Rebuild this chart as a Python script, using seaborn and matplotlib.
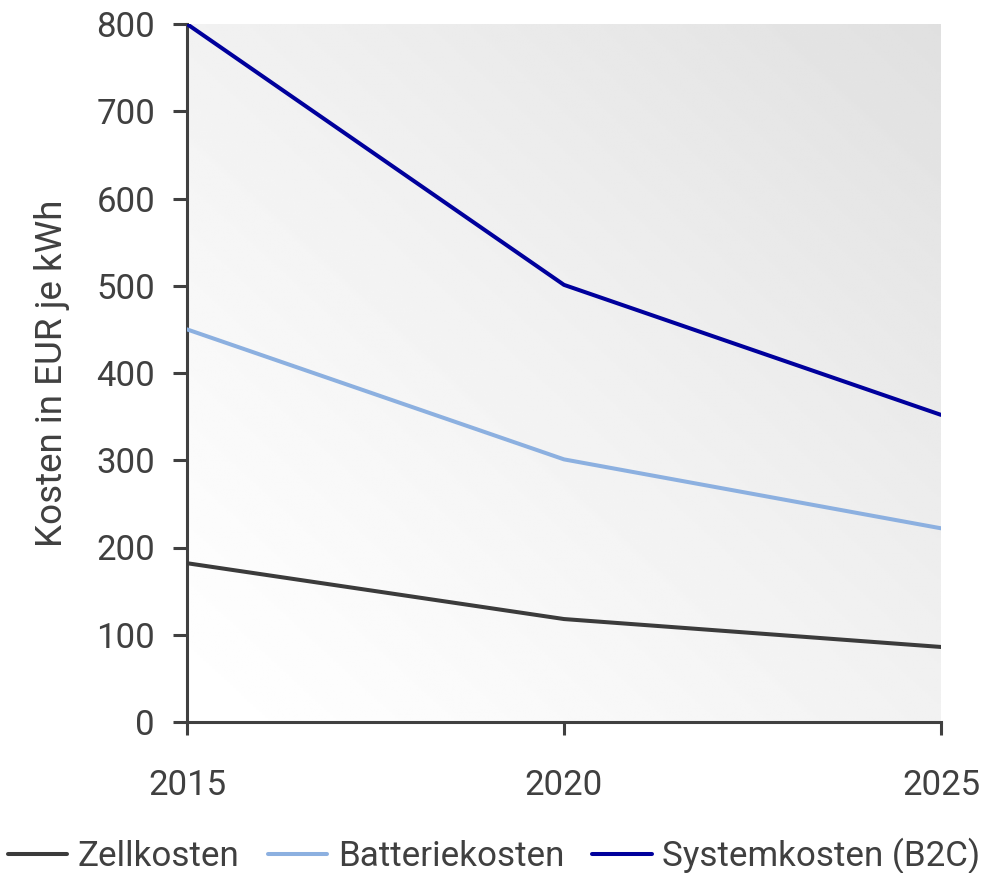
import numpy as np
import pandas as pd
import matplotlib
matplotlib.use("Agg")
import matplotlib.pyplot as plt
import seaborn as sns

# Cost development of lithium-ion storage (EUR per kWh)
years = [2015, 2020, 2025]
zellkosten = [182, 118, 86]
batteriekosten = [450, 301, 222]
systemkosten = [800, 501, 352]
series_names = ["Zellkosten", "Batteriekosten", "Systemkosten (B2C)"]
y_ticks = [0, 100, 200, 300, 400, 500, 600, 700, 800]

palette = {"Zellkosten": "#3b3b3b",
           "Batteriekosten": "#8cb0e0",
           "Systemkosten (B2C)": "#00009c"}

df = pd.DataFrame({
    "Jahr": years * 3,
    "Kosten": zellkosten + batteriekosten + systemkosten,
    "Serie": [s for s in series_names for _ in years],
})

sns.set_theme(style="white")
plt.rcParams["font.family"] = ["Roboto", "DejaVu Sans"]
text_color = "#404040"

fig = plt.figure(figsize=(9.88, 8.73), dpi=100)
ax = fig.add_axes([187 / 988, 1 - 722 / 873, (941 - 187) / 988, (722 - 24) / 873])

# diagonal grey gradient behind the plot area
n = 256
gx, gy = np.meshgrid(np.linspace(0, 1, n), np.linspace(0, 1, n))
shade = 1 - (1 - 0.878) * ((gx + gy) / 2) ** 1.2
ax.imshow(shade, cmap="gray", vmin=0, vmax=1, origin="lower",
          extent=[2015, 2025, 0, 800], aspect="auto", zorder=0,
          interpolation="bilinear")

sns.lineplot(data=df, x="Jahr", y="Kosten", hue="Serie", palette=palette,
             hue_order=series_names, linewidth=2.9, ax=ax, legend=False,
             zorder=3)

ax.set_xlim(2015, 2025)
ax.set_ylim(0, 800)
ax.set_xticks(years)
ax.set_yticks(y_ticks)
ax.set_xlabel("")
ax.set_ylabel("Kosten in EUR je kWh", fontsize=26.5, color=text_color, labelpad=19)

for side in ["top", "right"]:
    ax.spines[side].set_visible(False)
for side in ["left", "bottom"]:
    ax.spines[side].set_color(text_color)
    ax.spines[side].set_linewidth(2.2)

ax.tick_params(axis="y", which="major", left=True, length=10, width=2.2,
               color=text_color, pad=13, labelsize=25, labelcolor=text_color)
ax.tick_params(axis="x", which="major", bottom=True, length=9.5, width=2.2,
               color=text_color, pad=24, labelsize=25, labelcolor=text_color)

handles = [plt.Line2D([0], [0], color=palette[s], linewidth=2.9) for s in series_names]
fig.legend(handles, series_names, loc="center", bbox_to_anchor=(0.5, 1 - 856 / 873),
           ncol=3, frameon=False, fontsize=25.2, labelcolor=text_color,
           handlelength=1.7, handletextpad=0.3, columnspacing=0.8,
           borderaxespad=0, borderpad=0)

fig.savefig("out.png", dpi=100)
